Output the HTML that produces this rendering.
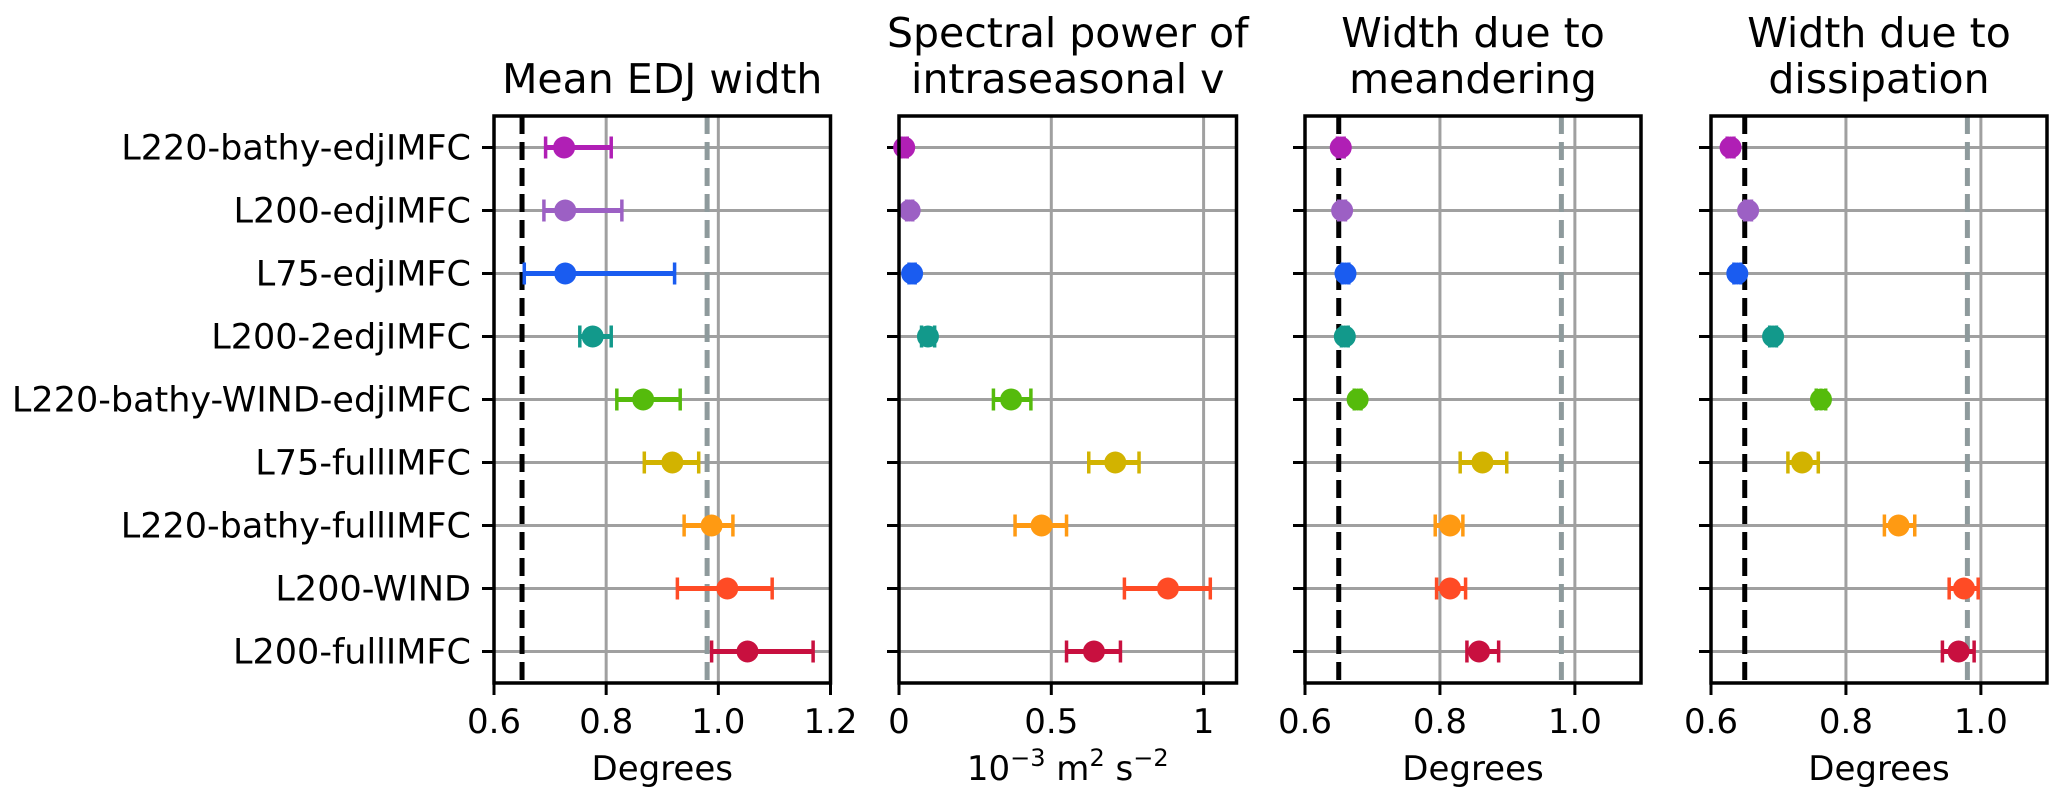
<!DOCTYPE html>
<html><head><meta charset="utf-8"><style>
html,body{margin:0;padding:0;background:#fff;}
svg{display:block;font-family:"DejaVu Sans","Liberation Sans",sans-serif;}
</style></head><body>
<svg id="chart" width="2067" height="807" viewBox="0 0 2067 807" xmlns="http://www.w3.org/2000/svg"></svg>
<script>
const categories = ["L220-bathy-edjIMFC","L200-edjIMFC","L75-edjIMFC","L200-2edjIMFC","L220-bathy-WIND-edjIMFC","L75-fullIMFC","L220-bathy-fullIMFC","L200-WIND","L200-fullIMFC"];
const colors = ["#b01fb5","#9c60c4","#1a5cf0","#12998b","#55bb0c","#d2b300","#ff9a12","#ff4b25","#c8103f"];
const meanWidth = [0.725,0.727,0.727,0.776,0.866,0.918,0.988,1.016,1.052];
const meanLo = [0.692,0.689,0.654,0.753,0.819,0.868,0.939,0.927,0.988];
const meanHi = [0.809,0.828,0.922,0.809,0.932,0.965,1.026,1.096,1.169];
const power = [0.017,0.035,0.043,0.095,0.368,0.71,0.468,0.883,0.64];
const powerLo = [0.007,0.025,0.033,0.074,0.31,0.623,0.381,0.74,0.55];
const powerHi = [0.027,0.045,0.053,0.117,0.433,0.788,0.55,1.022,0.727];
const meander = [0.653,0.655,0.66,0.659,0.678,0.863,0.815,0.815,0.858];
const meanderLo = [0.648,0.65,0.655,0.654,0.673,0.83,0.793,0.795,0.84];
const meanderHi = [0.658,0.66,0.665,0.664,0.683,0.899,0.834,0.838,0.887];
const dissip = [0.629,0.655,0.639,0.692,0.763,0.735,0.878,0.975,0.967];
const dissipLo = [0.624,0.65,0.634,0.687,0.756,0.714,0.857,0.953,0.943];
const dissipHi = [0.634,0.66,0.644,0.697,0.77,0.759,0.902,0.996,0.99];
const ticks1 = [0.6,0.8,1.0,1.2], tickLabels1 = ["0.6","0.8","1.0","1.2"];
const ticks2 = [0,0.5,1], tickLabels2 = ["0","0.5","1"];
const ticks3 = [0.6,0.8,1.0], tickLabels3 = ["0.6","0.8","1.0"];
const refLines = [0.65,0.98];

const NS="http://www.w3.org/2000/svg";
const svg=document.getElementById('chart');
function mk(tag,attrs,parent){const e=document.createElementNS(NS,tag);for(const k in attrs)e.setAttribute(k,attrs[k]);(parent||svg).appendChild(e);return e;}
const TOP=116,BOT=683;
function yPos(i){return TOP+(i+0.5)*(BOT-TOP)/categories.length;}

const panels=[
 {name:"mean-edj-width",left:494,right:830.5,min:0.6,max:1.2,ticks:ticks1,labels:tickLabels1,vals:meanWidth,lo:meanLo,hi:meanHi,title:["Mean EDJ width"],xlabel:"Degrees",ref:true},
 {name:"spectral-power",left:899,right:1236.5,min:0,max:1.108,ticks:ticks2,labels:tickLabels2,vals:power,lo:powerLo,hi:powerHi,title:["Spectral power of","intraseasonal v"],xlabel:null,ref:false},
 {name:"meandering-width",left:1305,right:1641,min:0.6,max:1.098,ticks:ticks3,labels:tickLabels3,vals:meander,lo:meanderLo,hi:meanderHi,title:["Width due to","meandering"],xlabel:"Degrees",ref:true},
 {name:"dissipation-width",left:1711,right:2047,min:0.6,max:1.098,ticks:ticks3,labels:tickLabels3,vals:dissip,lo:dissipLo,hi:dissipHi,title:["Width due to","dissipation"],xlabel:"Degrees",ref:true}
];

panels.forEach((p,pi)=>{
  const g=mk('g',{});
  
  
  const x=v=>p.left+(v-p.min)/(p.max-p.min)*(p.right-p.left);
  p.ticks.forEach((t,k)=>{
    const gl=mk('line',{x1:x(t),x2:x(t),y1:TOP,y2:BOT,stroke:'#a0a0a0','stroke-width':3},g);
    
    
    const tm=mk('line',{x1:x(t),x2:x(t),y1:BOT,y2:BOT+12,stroke:'#000','stroke-width':3},g);
    
    
    const tl=mk('text',{x:x(t),y:733,'font-size':34,'text-anchor':'middle',fill:'#000'},g);
    tl.textContent=p.labels[k];
    
    
  });
  categories.forEach((c,i)=>{
    const y=yPos(i);
    const hl=mk('line',{x1:p.left,x2:p.right,y1:y,y2:y,stroke:'#a0a0a0','stroke-width':3},g);
    
    
    const tm=mk('line',{x1:p.left-12,x2:p.left,y1:y,y2:y,stroke:'#000','stroke-width':3},g);
    
    
    if(pi===0){
      const tl=mk('text',{x:471,y:y+12,'font-size':35,'text-anchor':'end',fill:'#000'},g);
      tl.textContent=c;
      
      
    }
  });
  if(p.ref){
    const r1=mk('line',{x1:x(refLines[1]),x2:x(refLines[1]),y1:TOP,y2:BOT,stroke:'#8e9a9c','stroke-width':5,'stroke-dasharray':'18,8'},g);
    
    
    const r0=mk('line',{x1:x(refLines[0]),x2:x(refLines[0]),y1:TOP,y2:BOT,stroke:'#000','stroke-width':5,'stroke-dasharray':'18,8'},g);
    
    
  }
  categories.forEach((c,i)=>{
    const y=yPos(i),col=colors[i];
    const eg=mk('g',{},g);
    
    
    mk('line',{x1:x(p.lo[i]),x2:x(p.hi[i]),y1:y,y2:y,stroke:col,'stroke-width':5},eg);
    mk('line',{x1:x(p.lo[i]),x2:x(p.lo[i]),y1:y-11,y2:y+11,stroke:col,'stroke-width':3.5},eg);
    mk('line',{x1:x(p.hi[i]),x2:x(p.hi[i]),y1:y-11,y2:y+11,stroke:col,'stroke-width':3.5},eg);
    const pt=mk('circle',{cx:x(p.vals[i]),cy:y,r:11,fill:col},g);
    
    
  });
  const fr=mk('rect',{x:p.left,y:TOP,width:p.right-p.left,height:BOT-TOP,fill:'none',stroke:'#000','stroke-width':3.5},g);
  
  
  const cx=(p.left+p.right)/2;
  const tt=mk('text',{x:cx,'font-size':41,'text-anchor':'middle',fill:'#000'},g);
  
  
  if(p.title.length===1){tt.setAttribute('y',93);tt.textContent=p.title[0];}
  else{
    const a=mk('tspan',{x:cx,y:47},tt);a.textContent=p.title[0];
    const b=mk('tspan',{x:cx,y:93},tt);b.textContent=p.title[1];
  }
  const xl=mk('text',{x:cx,y:780,'font-size':34,'text-anchor':'middle',fill:'#000'},g);
  
  
  if(p.xlabel)xl.textContent=p.xlabel;
  else{
    const parts=[["10",0,34],["−3",-14,24],[" m",14,34],["2",-14,24],[" s",14,34],["−2",-14,24]];
    parts.forEach(q=>{const s=mk('tspan',{dy:q[1],'font-size':q[2]},xl);s.textContent=q[0];});
  }
});
</script>
</body></html>
